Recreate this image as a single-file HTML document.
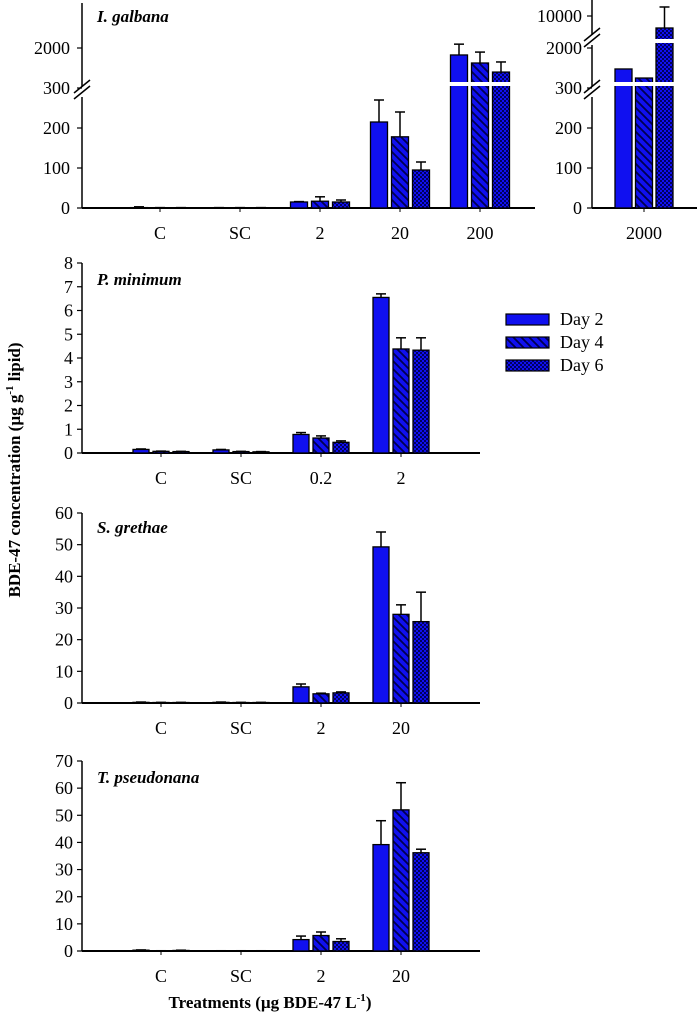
<!DOCTYPE html>
<html><head><meta charset="utf-8"><style>
html,body{margin:0;padding:0;background:#fff}
svg{display:block;font-family:"Liberation Serif",serif}
</style></head><body>
<svg id="chart" width="697" height="1016" viewBox="0 0 697 1016" xmlns="http://www.w3.org/2000/svg">
<defs>
<pattern id="hatch" patternUnits="userSpaceOnUse" width="8" height="8">
<rect width="8" height="8" fill="#1010f0"/>
<path d="M-2,-2 L10,10 M-2,6 L2,10 M6,-2 L10,2" stroke="#000050" stroke-width="1.8"/>
</pattern>
<pattern id="check" patternUnits="userSpaceOnUse" width="4" height="4">
<rect width="4" height="4" fill="#1010f0"/>
<rect width="2" height="2" fill="#000060"/>
<rect x="2" y="2" width="2" height="2" fill="#000060"/>
</pattern>
</defs>
<text x="20" y="470" transform="rotate(-90 20 470)" text-anchor="middle" font-size="17" font-weight="bold">BDE-47 concentration (µg g<tspan dy="-7" font-size="11">-1</tspan><tspan dy="7"> lipid)</tspan></text>
<text x="270" y="1008" text-anchor="middle" font-size="17" font-weight="bold">Treatments (µg BDE-47 L<tspan dy="-7" font-size="11">-1</tspan><tspan dy="7">)</tspan></text>
<g>
<rect x="506" y="314" width="43" height="11" fill="#1010f0" stroke="#000" stroke-width="1.2"/>
<text x="560" y="325" font-size="18">Day 2</text>
<rect x="506" y="337" width="43" height="11" fill="url(#hatch)" stroke="#000" stroke-width="1.2"/>
<text x="560" y="348" font-size="18">Day 4</text>
<rect x="506" y="360" width="43" height="11" fill="url(#check)" stroke="#000" stroke-width="1.2"/>
<text x="560" y="371" font-size="18">Day 6</text>
</g>
</svg>
<script>
// ---- data ----
const fills = ["#1010f0", "url(#hatch)", "url(#check)"];
const igCats = ["C", "SC", "2", "20", "200"];
const igDay2 = [1, 0.5, 15, 215, 1710];
const igDay4 = [0.5, 0.5, 17, 178, 1320];
const igDay6 = [0.5, 0.5, 15, 95, 880];
const igErr2 = [3, 1, 16, 270, 2240];
const igErr4 = [1, 1, 28, 240, 1850];
const igErr6 = [1, 1, 20, 115, 1370];
const igTicksLow = [0, 100, 200, 300];
const igTicksHigh = [2000];
const hiCats = ["2000"];
const hiDay2 = [1030];
const hiDay4 = [590];
const hiDay6 = [6860];
const hiErr6 = [12860];
const hiTicks = [0, 100, 200, 300, 2000, 10000];

const pmCats = ["C", "SC", "0.2", "2"];
const pmDay2 = [0.15, 0.13, 0.78, 6.55];
const pmDay4 = [0.07, 0.06, 0.63, 4.38];
const pmDay6 = [0.06, 0.05, 0.45, 4.33];
const pmErr2 = [0.17, 0.15, 0.86, 6.7];
const pmErr4 = [0.08, 0.07, 0.72, 4.85];
const pmErr6 = [0.07, 0.06, 0.51, 4.85];
const pmTicks = [0, 1, 2, 3, 4, 5, 6, 7, 8];

const sgCats = ["C", "SC", "2", "20"];
const sgDay2 = [0.2, 0.2, 5.1, 49.3];
const sgDay4 = [0.15, 0.15, 2.9, 28];
const sgDay6 = [0.15, 0.15, 3.2, 25.7];
const sgErr2 = [0.3, 0.3, 6, 54];
const sgErr4 = [0.2, 0.2, 3.1, 31];
const sgErr6 = [0.2, 0.2, 3.5, 35];
const sgTicks = [0, 10, 20, 30, 40, 50, 60];

const tpCats = ["C", "SC", "2", "20"];
const tpDay2 = [0.3, 0.1, 4.2, 39.2];
const tpDay4 = [0.1, 0.1, 5.7, 52];
const tpDay6 = [0.2, 0.1, 3.5, 36.2];
const tpErr2 = [0.4, 0.1, 5.5, 48];
const tpErr4 = [0.1, 0.1, 7, 62];
const tpErr6 = [0.3, 0.1, 4.5, 37.5];
const tpTicks = [0, 10, 20, 30, 40, 50, 60, 70];

const svg = document.getElementById('chart');
const NS = "http://www.w3.org/2000/svg";
function mk(tag, attrs, parent) {
  const e = document.createElementNS(NS, tag);
  for (const k in attrs) e.setAttribute(k, attrs[k]);
  (parent || svg).appendChild(e);
  return e;
}

function drawPanel(p) {
  const g = mk('g', {});
  
  
  const ya = mk('line', {x1: p.x0, x2: p.x0, y1: p.top, y2: p.base, stroke: '#000', 'stroke-width': 1.5}, g);
  
  
  const xa = mk('line', {x1: p.x0, x2: p.x1, y1: p.base, y2: p.base, stroke: '#000', 'stroke-width': 2}, g);
  
  
  p.ticks.forEach(t => {
    const y = p.y(t);
    mk('line', {x1: p.x0 - 5, x2: p.x0, y1: y, y2: y, stroke: '#000', 'stroke-width': 1.2}, g);
    const tl = mk('text', {x: p.x0 - 9, y: y + 6, 'text-anchor': 'end', 'font-size': 18}, g);
    tl.textContent = t;
    
    
  });
  p.cats.forEach((c, i) => {
    const cx = p.cx(i);
    mk('line', {x1: cx, x2: cx, y1: p.base, y2: p.base + 4, stroke: '#000', 'stroke-width': 1}, g);
    const cl = mk('text', {x: cx, y: p.base + 31, 'text-anchor': 'middle', 'font-size': 18}, g);
    cl.textContent = c;
    
    
    p.series.forEach((s, k) => {
      const v = s[i];
      if (v == null) return;
      const bx = cx + (k - 1) * p.step - p.bw / 2;
      const yt = p.y(v);
      const e = p.errs[k] ? p.errs[k][i] : null;
      if (e != null) {
        const ye = p.y(e);
        mk('line', {x1: cx + (k - 1) * p.step, x2: cx + (k - 1) * p.step, y1: ye, y2: yt, stroke: '#000', 'stroke-width': 1.5}, g);
        mk('line', {x1: cx + (k - 1) * p.step - 5, x2: cx + (k - 1) * p.step + 5, y1: ye, y2: ye, stroke: '#000', 'stroke-width': 1.5}, g);
      }
      const b = mk('rect', {x: bx, y: yt, width: p.bw, height: Math.max(0.5, p.base - yt), fill: fills[k], stroke: '#000', 'stroke-width': 1.3}, g);
      
      
      (p.bands || []).forEach(bd => {
        if (v > bd.above) mk('rect', {x: bx - 1, y: bd.y, width: p.bw + 2, height: bd.h, fill: '#fff'}, g);
      });
    });
  });
  (p.breaks || []).forEach(by => {
    mk('rect', {x: p.x0 - 3, y: by - 5, width: 6, height: 10, fill: '#fff'}, g);
    mk('line', {x1: p.x0 - 8, y1: by + 1, x2: p.x0 + 8, y2: by - 12, stroke: '#000', 'stroke-width': 1.5}, g);
    mk('line', {x1: p.x0 - 8, y1: by + 7, x2: p.x0 + 8, y2: by - 6, stroke: '#000', 'stroke-width': 1.5}, g);
  });
  if (p.title) {
    const t = mk('text', {x: p.x0 + 15, y: p.titleY, 'font-size': 17, 'font-weight': 'bold', 'font-style': 'italic'}, g);
    t.textContent = p.title;
    
    
  }
}

function yBroken(v) {
  if (v <= 300) return 208 - v * 0.4;
  if (v <= 2000) return 84 - (v - 300) / 1700 * 35;
  return 45 - (v - 2000) / 8000 * 28;
}
function yTick(v) { return v === 300 ? 88 : v === 2000 ? 48 : v === 10000 ? 16 : yBroken(v); }

drawPanel({name: 'panel-i-galbana', x0: 82, x1: 535, top: 3, base: 208, cats: igCats,
  cx: i => 160 + i * 80, step: 21, bw: 17,
  series: [igDay2, igDay4, igDay6], errs: [igErr2, igErr4, igErr6],
  y: yBroken, ticks: [], title: 'I. galbana', titleY: 22,
  bands: [{above: 300, y: 82, h: 4}], breaks: [92]});
[...igTicksLow, ...igTicksHigh].forEach(t => {
  const y = yTick(t);
  mk('line', {x1: 77, x2: 82, y1: y, y2: y, stroke: '#000', 'stroke-width': 1.2});
  const tl = mk('text', {x: 70, y: y + 6, 'text-anchor': 'end', 'font-size': 18});
  tl.textContent = t;
  
  
});

drawPanel({name: 'panel-i-galbana-2000', x0: 592, x1: 697, top: 0, base: 208, cats: hiCats,
  cx: i => 644, step: 20.5, bw: 17,
  series: [hiDay2, hiDay4, hiDay6], errs: [null, null, hiErr6],
  y: yBroken, ticks: [], bands: [{above: 300, y: 82, h: 4}, {above: 2000, y: 39, h: 4}], breaks: [92, 40]});
hiTicks.forEach(t => {
  const y = yTick(t);
  mk('line', {x1: 587, x2: 592, y1: y, y2: y, stroke: '#000', 'stroke-width': 1.2});
  const tl = mk('text', {x: 582, y: y + 6, 'text-anchor': 'end', 'font-size': 18});
  tl.textContent = t;
  
  
});

drawPanel({name: 'panel-p-minimum', x0: 82, x1: 480, top: 263, base: 453, cats: pmCats,
  cx: i => 161 + i * 80, step: 20, bw: 16,
  series: [pmDay2, pmDay4, pmDay6], errs: [pmErr2, pmErr4, pmErr6],
  y: v => 453 - v * (190 / 8), ticks: pmTicks, title: 'P. minimum', titleY: 285});

drawPanel({name: 'panel-s-grethae', x0: 82, x1: 480, top: 513, base: 703, cats: sgCats,
  cx: i => 161 + i * 80, step: 20, bw: 16,
  series: [sgDay2, sgDay4, sgDay6], errs: [sgErr2, sgErr4, sgErr6],
  y: v => 703 - v * (190 / 60), ticks: sgTicks, title: 'S. grethae', titleY: 533});

drawPanel({name: 'panel-t-pseudonana', x0: 82, x1: 480, top: 761, base: 951, cats: tpCats,
  cx: i => 161 + i * 80, step: 20, bw: 16,
  series: [tpDay2, tpDay4, tpDay6], errs: [tpErr2, tpErr4, tpErr6],
  y: v => 951 - v * (190 / 70), ticks: tpTicks, title: 'T. pseudonana', titleY: 783});
</script>
</body></html>
